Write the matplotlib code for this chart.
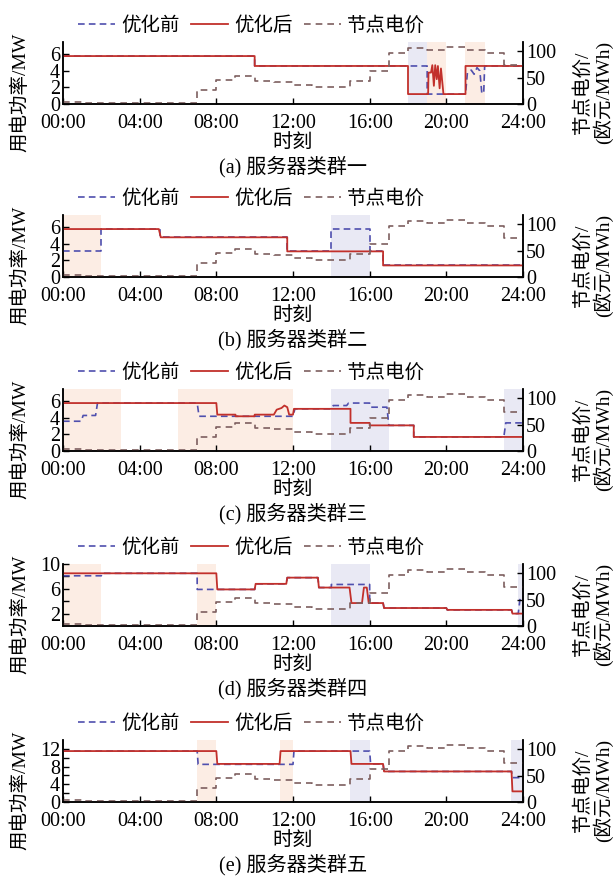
import matplotlib
matplotlib.use('Agg')
import matplotlib.pyplot as plt
from matplotlib.lines import Line2D

plt.rcParams['font.family'] = ['Liberation Serif', 'Noto Sans CJK SC']
plt.rcParams['axes.unicode_minus'] = False

# node price, hourly (steps)
price_t = list(range(25))
price = [3, 1, 1, 1, 1, 1, 1, 27, 45, 54, 43, 41, 37, 33, 33, 43, 62, 98, 106, 103, 108, 103, 97, 74, 74]

# (a) cluster 1
a_t_before = [0, 10, 10, 19, 19, 21, 21.1, 21.3, 21.45, 21.6, 21.75, 21.85, 21.95, 22, 24]
a_before = [5.8, 5.8, 4.6, 4.6, 1.2, 1.2, 3.8, 4.1, 3.6, 4.4, 4.0, 1.3, 1.3, 4.6, 4.6]
a_t_after = [0, 10, 10, 18, 18, 19.05, 19.07, 19.2, 19.27, 19.35, 19.42, 19.5, 19.56, 19.65, 19.72, 19.85, 21, 21, 24]
a_after = [5.8, 5.8, 4.6, 4.6, 1.2, 1.2, 3.8, 3.8, 4.7, 2.2, 4.7, 3.0, 4.6, 1.9, 4.3, 1.2, 1.2, 4.6, 4.6]
a_shades = [(18, 19, 'b'), (19, 20, 'o'), (21, 22, 'o')]

# (b) cluster 2
b_t_before = [0, 2, 2, 5.05, 5.05, 11.7, 11.7, 14, 14, 16, 16, 16.7, 16.7, 24]
b_before = [3.1, 3.1, 5.8, 5.8, 4.8, 4.8, 3.1, 3.1, 5.8, 5.8, 3.1, 3.1, 1.4, 1.4]
b_t_after = [0, 5.0, 5.1, 11.7, 11.7, 16.7, 16.7, 24]
b_after = [5.8, 5.8, 4.8, 4.8, 3.1, 3.1, 1.4, 1.4]
b_shades = [(0, 2, 'o'), (14, 16, 'b')]

# (c) cluster 3
c_t_before = [0, 0.95, 1.05, 1.7, 1.8, 7.0, 7.1, 12.0, 12.1, 14.0, 14.1, 14.8, 14.9, 16.0, 16.05, 16.9, 17.0, 18.3, 18.3, 23.0, 23.1, 24]
c_before = [3.6, 3.6, 4.3, 4.3, 5.8, 5.8, 4.2, 4.2, 5.1, 5.1, 5.5, 5.5, 5.8, 5.8, 5.3, 5.3, 3.1, 3.1, 1.7, 1.7, 3.4, 3.4]
c_t_after = [0, 8.0, 8.05, 9.0, 9.0, 10.0, 10.0, 11.0, 11.15, 11.4, 11.55, 11.7, 11.8, 12.0, 12.05, 15.0, 15.0, 16.0, 16.0, 18.3, 18.3, 24]
c_after = [5.8, 5.8, 4.4, 4.4, 4.2, 4.2, 4.4, 4.4, 5.0, 5.2, 5.5, 5.3, 4.4, 4.4, 5.1, 5.1, 3.4, 3.4, 3.1, 3.1, 1.7, 1.7]
c_shades = [(0, 3, 'o'), (6, 12, 'o'), (14, 17, 'b'), (23, 24, 'b')]

# (d) cluster 4
d_t_before = [0, 2.0, 2.0, 7.0, 7.0, 10.0, 10.05, 11.65, 11.7, 13.3, 13.35, 14.0, 14.0, 16.0, 16.0, 16.7, 16.75, 20.0, 20.05, 23.4, 23.45, 23.75, 23.85, 24]
d_before = [8.1, 8.1, 8.5, 8.5, 5.9, 5.9, 6.8, 6.8, 7.8, 7.8, 6.2, 6.2, 6.7, 6.7, 3.7, 3.7, 2.9, 2.9, 2.6, 2.6, 2.0, 2.0, 4.5, 4.5]
d_t_after = [0, 8.0, 8.05, 10.0, 10.05, 11.65, 11.7, 13.3, 13.35, 14.95, 15.05, 15.6, 15.7, 15.85, 15.95, 16.7, 16.75, 20.0, 20.05, 23.4, 23.45, 24]
d_after = [8.5, 8.5, 5.9, 5.9, 6.8, 6.8, 7.8, 7.8, 6.2, 6.2, 3.7, 3.7, 6.2, 6.2, 3.7, 3.7, 2.9, 2.9, 2.6, 2.6, 2.0, 2.0]
d_shades = [(0, 2, 'o'), (7, 8, 'o'), (14, 16, 'b'), (23.75, 24, 'b')]

# (e) cluster 5
e_t_before = [0, 7.0, 7.05, 12.0, 12.05, 16.0, 16.05, 16.7, 16.75, 23.4, 23.45, 24]
e_before = [11.5, 11.5, 8.5, 8.5, 11.5, 11.5, 8.6, 8.6, 6.9, 6.9, 5.5, 5.5]
e_t_after = [0, 8.0, 8.05, 11.3, 11.35, 15.0, 15.05, 16.7, 16.75, 23.4, 23.45, 24]
e_after = [11.5, 11.5, 8.6, 8.6, 11.5, 11.5, 8.6, 8.6, 6.9, 6.9, 2.4, 2.4]
e_shades = [(7, 8, 'o'), (11.3, 12, 'o'), (15, 16, 'b'), (23.4, 24, 'b')]

captions = ['(a) 服务器类群一', '(b) 服务器类群二', '(c) 服务器类群三', '(d) 服务器类群四', '(e) 服务器类群五']
x_ticks = [0, 4, 8, 12, 16, 20, 24]
x_labels = ['00:00', '04:00', '08:00', '12:00', '16:00', '20:00', '24:00']

panels = [
    (a_t_before, a_before, a_t_after, a_after, a_shades, 7.5, [0, 2, 4, 6], [0, 2, 4, 6]),
    (b_t_before, b_before, b_t_after, b_after, b_shades, 7.5, [0, 2, 4, 6], [0, 2, 4, 6]),
    (c_t_before, c_before, c_t_after, c_after, c_shades, 7.5, [0, 2, 4, 6], [0, 2, 4, 6]),
    (d_t_before, d_before, d_t_after, d_after, d_shades, 10, [2, 4, 6, 8, 10], [2, 6, 10]),
    (e_t_before, e_before, e_t_after, e_after, e_shades, 14, [0, 2, 4, 6, 8, 10, 12], [0, 4, 8, 12]),
]

RED = '#c2302b'
BLUE = '#4f4fae'
BROWN = '#7d5f5f'
SHADE = {'o': '#fcede4', 'b': '#e9e9f4'}

W, H = 614, 884
fig = plt.figure(figsize=(W / 100, H / 100), dpi=100)

tops = [42, 215, 389, 564, 740]
ax_h = 62
left, right = 63, 523

for i, (tb, vb, ta, va, shades, ytop, yt, ylab) in enumerate(panels):
    top = tops[i]
    ax = fig.add_axes([left / W, 1 - (top + ax_h) / H, (right - left) / W, ax_h / H])
    for s0, s1, c in shades:
        ax.axvspan(s0, s1, color=SHADE[c], lw=0, zorder=0)
    ax.plot(tb, vb, color=BLUE, lw=1.2, dashes=(4, 2.5), zorder=3)
    ax.plot(ta, va, color=RED, lw=1.3, zorder=4)
    ax.set_xlim(0, 24)
    ax.set_ylim(0, ytop)
    ax.set_xticks(x_ticks)
    ax.set_xticklabels(x_labels)
    ax.set_yticks(yt)
    ax.set_yticklabels([str(v) if v in ylab else '' for v in yt])
    ax.spines['top'].set_visible(False)
    ax.tick_params(direction='in', length=4, width=1, labelsize=14.5, pad=2)
    ax.tick_params(axis='x', pad=7)

    ax2 = ax.twinx()
    ax2.plot(price_t, price, color=BROWN, lw=1.2, dashes=(4, 3), drawstyle='steps-post', zorder=2)
    ax2.set_ylim(0, 118)
    ax2.set_yticks([0, 50, 100])
    ax2.spines['top'].set_visible(False)
    ax2.tick_params(direction='in', length=4, width=1, labelsize=14.5, pad=2)
    for sp in ['left', 'right', 'bottom']:
        ax.spines[sp].set_linewidth(1.1)
        ax2.spines[sp].set_linewidth(1.1)

    handles = [Line2D([], [], color=BLUE, lw=1.2, dashes=(4, 2.5)),
               Line2D([], [], color=RED, lw=1.3),
               Line2D([], [], color=BROWN, lw=1.2, dashes=(4, 3))]
    ax2.legend(handles, ['优化前', '优化后', '节点电价'], loc='lower center',
               bbox_to_anchor=(0.41, 0.93), ncol=3, frameon=False, fontsize=14,
               handlelength=1.9, handletextpad=0.3, columnspacing=0.6, borderpad=0.1)

    bottom = top + ax_h
    fig.text(0.5 * (left + right) / W, 1 - (bottom + 39) / H, '时刻', ha='center', va='center', fontsize=14.5)
    fig.text(0.5 * (left + right) / W, 1 - (bottom + 63) / H, captions[i], ha='center', va='center', fontsize=14.5)
    fig.text(20 / W, 1 - (top + 50) / H, '用电功率/MW', rotation=90, ha='center', va='center', fontsize=14)
    fig.text(593 / W, 1 - (top + 50) / H, '节点电价/\n(欧元/MWh)', rotation=90, ha='center', va='center',
             fontsize=14, multialignment='center', linespacing=1.1)

fig.savefig('out.png', dpi=100)
